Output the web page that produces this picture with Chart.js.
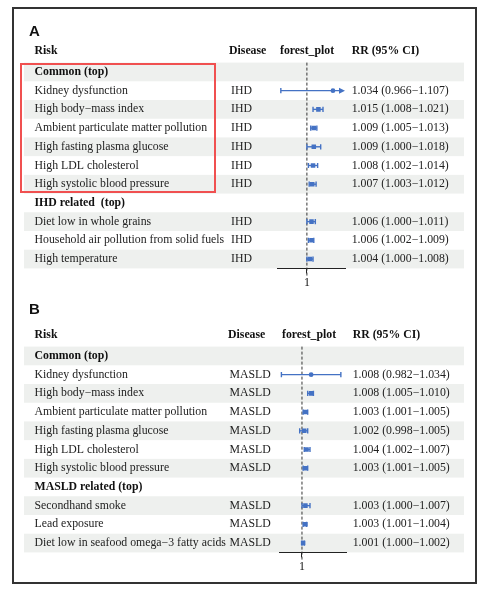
<!DOCTYPE html>
<html>
<head>
<meta charset="utf-8">
<script src="https://cdn.jsdelivr.net/npm/chart.js@4/dist/chart.umd.min.js"></script>
<style>
html,body{margin:0;padding:0;background:#fff;width:486px;height:595px;overflow:hidden;}
#wrap{position:relative;width:486px;height:595px;}
canvas{position:absolute;left:0;top:0;}
.frame{position:absolute;left:12px;top:6.5px;width:465px;height:577px;border:2px solid #333;box-sizing:border-box;}
.hl{position:absolute;left:20px;top:63px;width:195.5px;height:130px;border:2.5px solid #f05050;box-sizing:border-box;z-index:5;}
.letter{position:absolute;font-family:"Liberation Sans",Arial,sans-serif;font-weight:bold;font-size:15px;color:#111;}
</style>
</head>
<body>
<div id="wrap">
<div class="frame"></div>
<canvas id="cA" width="486" height="595"></canvas>
<canvas id="cB" width="486" height="595"></canvas>
<div class="letter" style="left:29px;top:22px;">A</div>
<div class="letter" style="left:29px;top:300px;">B</div>
<div class="hl"></div>
</div>
<script>
// ---------- Panel A data ----------
const riskA = ["Common (top)", "Kidney dysfunction", "High body\u2212mass index", "Ambient particulate matter pollution",
  "High fasting plasma glucose", "High LDL cholesterol", "High systolic blood pressure", "IHD related  (top)",
  "Diet low in whole grains", "Household air pollution from solid fuels", "High temperature"];
const diseaseA = ["", "IHD", "IHD", "IHD", "IHD", "IHD", "IHD", "", "IHD", "IHD", "IHD"];
const rrA = [null, 1.034, 1.015, 1.009, 1.009, 1.008, 1.007, null, 1.006, 1.006, 1.004];
const loA = [null, 0.966, 1.008, 1.005, 1.000, 1.002, 1.003, null, 1.000, 1.002, 1.000];
const hiA = [null, 1.107, 1.021, 1.013, 1.018, 1.014, 1.012, null, 1.011, 1.009, 1.008];
const xLimA = [0.961, 1.0497];

// ---------- Panel B data ----------
const riskB = ["Common (top)", "Kidney dysfunction", "High body\u2212mass index", "Ambient particulate matter pollution",
  "High fasting plasma glucose", "High LDL cholesterol", "High systolic blood pressure", "MASLD related (top)",
  "Secondhand smoke", "Lead exposure", "Diet low in seafood omega\u22123 fatty acids"];
const diseaseB = ["", "MASLD", "MASLD", "MASLD", "MASLD", "MASLD", "MASLD", "", "MASLD", "MASLD", "MASLD"];
const rrB = [null, 1.008, 1.008, 1.003, 1.002, 1.004, 1.003, null, 1.003, 1.003, 1.001];
const loB = [null, 0.982, 1.005, 1.001, 0.998, 1.002, 1.001, null, 1.000, 1.001, 1.000];
const hiB = [null, 1.034, 1.010, 1.005, 1.005, 1.007, 1.005, null, 1.007, 1.004, 1.002];
const xLimB = [0.9799, 1.0385];

const headers = ["Risk", "Disease", "forest_plot", "RR (95% CI)"];
const xTicks = [1];

const BLUE = "#4472c4";
const SERIF = "'Liberation Serif','Times New Roman',serif";
const FS = 11.8;

function fmt(v){ return v.toFixed(3); }

const forestPlugin = {
  id: "forestTable",
  beforeDraw(chart, args, o) {
    const ctx = chart.ctx, y = chart.scales.y;
    const h = Math.abs(y.getPixelForValue(1) - y.getPixelForValue(0));
    ctx.save();
    ctx.fillStyle = "#eef0ee";
    for (let i = 0; i < o.risk.length; i += 2) {
      ctx.fillRect(24, y.getPixelForValue(i) - h / 2, 440, h);
    }
    ctx.restore();
  },
  beforeDatasetsDraw(chart, args, o) {
    const ctx = chart.ctx, x = chart.scales.x, y = chart.scales.y, ca = chart.chartArea;
    ctx.save();
    const x1 = x.getPixelForValue(1);
    ctx.strokeStyle = "#333";
    ctx.lineWidth = 1;
    ctx.setLineDash([3, 2]);
    ctx.beginPath();
    ctx.moveTo(x1, ca.top);
    ctx.lineTo(x1, ca.bottom + 8);
    ctx.stroke();
    ctx.setLineDash([]);
    ctx.strokeStyle = BLUE;
    ctx.fillStyle = BLUE;
    ctx.lineWidth = 1.4;
    for (let i = 0; i < o.rr.length; i++) {
      if (o.rr[i] == null) continue;
      const py = y.getPixelForValue(i);
      const clipHi = o.hi[i] > x.max;
      const clipLo = o.lo[i] < x.min;
      const pl = x.getPixelForValue(Math.max(o.lo[i], x.min));
      const ph = x.getPixelForValue(Math.min(o.hi[i], x.max));
      ctx.beginPath();
      ctx.moveTo(pl, py);
      ctx.lineTo(clipHi ? ph - 4 : ph, py);
      ctx.stroke();
      ctx.beginPath();
      if (!clipLo) { ctx.moveTo(pl, py - 2.6); ctx.lineTo(pl, py + 2.6); }
      if (!clipHi) { ctx.moveTo(ph, py - 2.6); ctx.lineTo(ph, py + 2.6); }
      ctx.stroke();
      if (clipHi) {
        ctx.beginPath();
        ctx.moveTo(ph, py);
        ctx.lineTo(ph - 6, py - 3);
        ctx.lineTo(ph - 6, py + 3);
        ctx.closePath();
        ctx.fill();
      }
    }
    ctx.restore();
  },
  afterDraw(chart, args, o) {
    const ctx = chart.ctx, y = chart.scales.y, ca = chart.chartArea;
    ctx.save();
    ctx.textBaseline = "middle";
    ctx.fillStyle = "#111";
    ctx.font = "bold " + FS + "px " + SERIF;
    const hy = y.getPixelForValue(0) - 21;
    ctx.fillText(headers[0], o.colRisk, hy);
    ctx.fillText(headers[1], o.colDisHead, hy);
    ctx.fillText(headers[2], ca.left + 3, hy);
    ctx.fillText(headers[3], o.colRR, hy);
    for (let i = 0; i < o.risk.length; i++) {
      const py = y.getPixelForValue(i);
      if (o.rr[i] == null) {
        ctx.font = "bold " + FS + "px " + SERIF;
        ctx.fillStyle = "#111";
        ctx.fillText(o.risk[i], o.colRisk, py);
      } else {
        ctx.font = FS + "px " + SERIF;
        ctx.fillStyle = "#222";
        ctx.fillText(o.risk[i], o.colRisk, py);
        ctx.fillText(o.disease[i], o.colDis, py);
        ctx.fillText(fmt(o.rr[i]) + " (" + fmt(o.lo[i]) + "\u2212" + fmt(o.hi[i]) + ")", o.colRR, py);
      }
    }
    ctx.restore();
  }
};

function makeChart(id, risk, disease, rr, lo, hi, xlim, pad, cols) {
  const idx = rr.map((v, i) => i).filter(i => rr[i] != null);
  const pts = idx.map(i => ({ x: rr[i], y: i }));
  const styles = idx.map(i => (hi[i] - lo[i] > 0.03 || hi[i] - lo[i] <= 0.002) ? "circle" : "rect");
  const radii = styles.map(s => s === "circle" ? 2.4 : 3.2);
  return new Chart(document.getElementById(id), {
    type: "scatter",
    data: { datasets: [{ data: pts, pointStyle: styles, pointRadius: radii, backgroundColor: BLUE, borderColor: BLUE, borderWidth: 0 }] },
    options: {
      responsive: false,
      animation: false,
      layout: { padding: pad },
      plugins: {
        legend: { display: false },
        tooltip: { enabled: false },
        forestTable: Object.assign({ risk, disease, rr, lo, hi }, cols)
      },
      scales: {
        x: {
          type: "linear", min: xlim[0], max: xlim[1],
          afterBuildTicks: s => { s.ticks = xTicks.map(v => ({ value: v })); },
          afterFit: s => { s.height = 20; },
          grid: { display: true, drawOnChartArea: false, drawTicks: true, tickLength: 5, color: "#222", lineWidth: 1 },
          border: { display: true, color: "#222", width: 1 },
          ticks: { font: { family: SERIF, size: 12 }, color: "#111", padding: 2, maxRotation: 0 }
        },
        y: { type: "linear", min: -0.5, max: 10.5, reverse: true, display: false }
      }
    },
    plugins: [forestPlugin]
  });
}

makeChart("cA", riskA, diseaseA, rrA, loA, hiA, xLimA,
  { left: 277, right: 141, top: 62.6, bottom: 595 - 268.4 - 20 },
  { colRisk: 34.5, colDis: 231, colDisHead: 229, colRR: 351.7 });
makeChart("cB", riskB, diseaseB, rrB, loB, hiB, xLimB,
  { left: 279, right: 140, top: 346.6, bottom: 595 - 552.4 - 20 },
  { colRisk: 34.5, colDis: 229.5, colDisHead: 228, colRR: 352.7 });
</script>
</body>
</html>
